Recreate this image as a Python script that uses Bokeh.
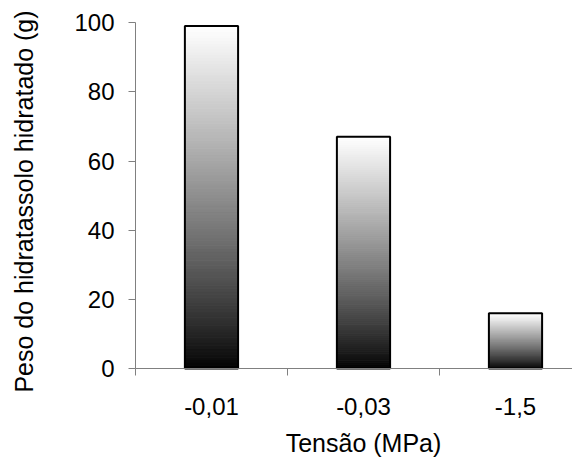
import math
from bokeh.plotting import figure
from bokeh.models import ColumnDataSource, FixedTicker, Range1d, Label
from bokeh.embed import file_html
from bokeh.resources import INLINE

# data
categories = ["-0,01", "-0,03", "-1,5"]
values = [99, 67, 16]
y_ticks = [0, 20, 40, 60, 80, 100]
x_label = "Tensão (MPa)"
y_label = "Peso do hidratassolo hidratado (g)"

FONT = "Liberation Sans"
N_SLICES = 120
BAR_W = 0.35

centers = [i + 0.5 for i in range(len(categories))]
X_END = 2.875

# gradient slices (black at bottom -> white at top, per bar)
left, right, bottom, top, colors = [], [], [], [], []
for c, v in zip(centers, values):
    for k in range(N_SLICES):
        t = (k + 0.5) / N_SLICES
        g = int(round(255 * (t ** 0.85)))
        g = max(0, min(255, g))
        left.append(c - BAR_W / 2)
        right.append(c + BAR_W / 2)
        bottom.append(v * k / N_SLICES)
        top.append(v * (k + 1) / N_SLICES)
        colors.append("#%02x%02x%02x" % (g, g, g))

grad = ColumnDataSource(dict(left=left, right=right, bottom=bottom, top=top, color=colors))
bars = ColumnDataSource(dict(x=centers, top=values))

# the frame fills the whole canvas; axes are pinned at x=0 / y=0 so that
# their titles can sit inside it as labels
p = figure(width=572, height=457, output_backend="svg", toolbar_location=None,
           x_range=Range1d(-0.888, X_END), y_range=Range1d(-25.7, 106.4),
           min_border_left=0, min_border_right=0, min_border_top=0, min_border_bottom=0)

p.quad(left="left", right="right", bottom="bottom", top="top", source=grad,
       fill_color="color", line_color="color", line_width=1)
p.vbar(x="x", top="top", bottom=0, width=BAR_W, source=bars,
       fill_color=None, line_color="black", line_width=2)

p.grid.visible = False
p.outline_line_color = None
p.background_fill_color = "white"
p.border_fill_color = "white"

xa = p.xaxis[0]
xa.fixed_location = 0
xa.bounds = (0, X_END)
xa.ticker = FixedTicker(ticks=centers, minor_ticks=[0, 1, 2, 3])
xa.major_label_overrides = {c: lab for c, lab in zip(centers, categories)}
xa.major_tick_out = 0
xa.major_tick_in = 0
xa.minor_tick_out = 7
xa.minor_tick_in = 0
xa.minor_tick_line_color = "#808080"
xa.axis_line_color = "#808080"
xa.major_label_standoff = 22
xa.major_label_text_font = FONT
xa.major_label_text_font_size = "24px"
xa.major_label_text_color = "black"

ya = p.yaxis[0]
ya.fixed_location = 0
ya.bounds = (0, 100)
ya.ticker = FixedTicker(ticks=y_ticks, minor_ticks=[])
ya.major_tick_out = 7
ya.major_tick_in = 0
ya.major_tick_line_color = "#808080"
ya.axis_line_color = "#808080"
ya.major_label_standoff = 14
ya.major_label_text_font = FONT
ya.major_label_text_font_size = "24px"
ya.major_label_text_color = "black"

# axis titles
p.add_layout(Label(x=centers[1], y=-21.4, x_units="data", y_units="data",
                   text=x_label, text_font=FONT, text_font_size="25px",
                   text_color="black", text_align="center", text_baseline="middle"))
p.add_layout(Label(x=-0.735, y=48.3, x_units="data", y_units="data", angle=math.pi / 2,
                   text=y_label, text_font=FONT, text_font_size="25px",
                   text_color="black", text_align="center", text_baseline="middle"))

open("out.html", "w").write(file_html(p, INLINE))
